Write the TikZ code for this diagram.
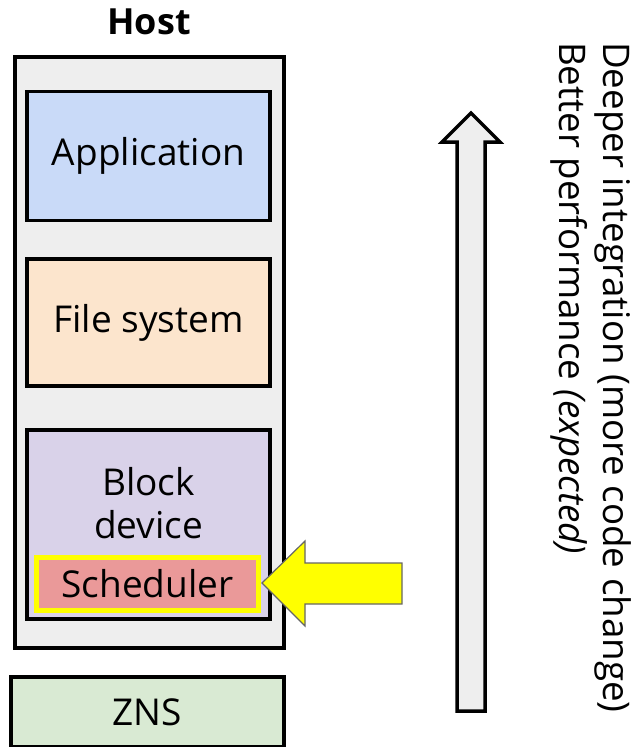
\documentclass[tikz,border=0pt]{standalone}
\usepackage{fontspec}
\setmainfont{Open Sans}
\definecolor{hostfill}{HTML}{EEEEEE}
\definecolor{appfill}{HTML}{C9DAF8}
\definecolor{fsfill}{HTML}{FCE5CD}
\definecolor{blkfill}{HTML}{D9D2E9}
\definecolor{schedfill}{HTML}{EA9999}
\definecolor{znsfill}{HTML}{D9EAD3}
\definecolor{hiyellow}{HTML}{FFFF00}
\definecolor{arrowedge}{HTML}{666666}
\tikzset{
  layer/.style={draw=black, line width=3.5pt, inner sep=0pt, font=\fontsize{37}{44}\selectfont},
  label/.style={inner sep=0pt, font=\fontsize{37}{43}\selectfont},
  sidetext/.style={inner sep=0pt, rotate=-90, anchor=base west, font=\fontsize{36.7}{44}\selectfont},
}
\begin{document}
\begin{tikzpicture}[x=1pt, y=-1pt]
  \useasboundingbox (0,0) rectangle (637,747);

  % host container and its title
  \node[layer, fill=hostfill, minimum width=269pt, minimum height=591pt] (host) at (149.5,352.5) {};
  \node[inner sep=0pt, font=\fontsize{36}{40}\selectfont\bfseries] (hosttitle) at (149,22) {Host};

  % software layers
  \node[layer, fill=appfill, minimum width=243pt, minimum height=129pt] (app) at (148.5,156) {Application};
  \node[layer, fill=fsfill, minimum width=243pt, minimum height=127pt] (fs) at (148.5,322.5) {File system};
  \node[layer, fill=blkfill, minimum width=243pt, minimum height=189pt] (blk) at (148.5,524.5) {};
  \node[label, align=center] (blktext) at (148.5,503) {Block\\device};

  % highlighted scheduler
  \node[draw=hiyellow, line width=5pt, fill=schedfill, minimum width=222pt, minimum height=53pt,
        inner sep=0pt, font=\fontsize{37}{44}\selectfont] (sched) at (147.5,583.5) {Scheduler};

  % device
  \node[layer, fill=znsfill, minimum width=273pt, minimum height=70pt] (zns) at (147.5,712) {ZNS};

  % pointer towards the scheduler
  \draw[draw=arrowedge, line width=1.2pt, fill=hiyellow, line join=miter]
    (262,583) -- (305,541) -- (305,563) -- (402,563) -- (402,604) -- (305,604) -- (305,626) -- cycle;

  % upward trend arrow
  \draw[draw=black, line width=3.5pt, fill=hostfill, line join=miter]
    (471,113) -- (500,142) -- (485,142) -- (485,711) -- (457,711) -- (457,142) -- (442,142) -- cycle;

  % side captions
  \node[sidetext] (cap1) at (603,42) {Deeper integration (more code change)};
  \node[sidetext] (cap2) at (559,42) {Better performance \textit{(expected)}};
\end{tikzpicture}
\end{document}
